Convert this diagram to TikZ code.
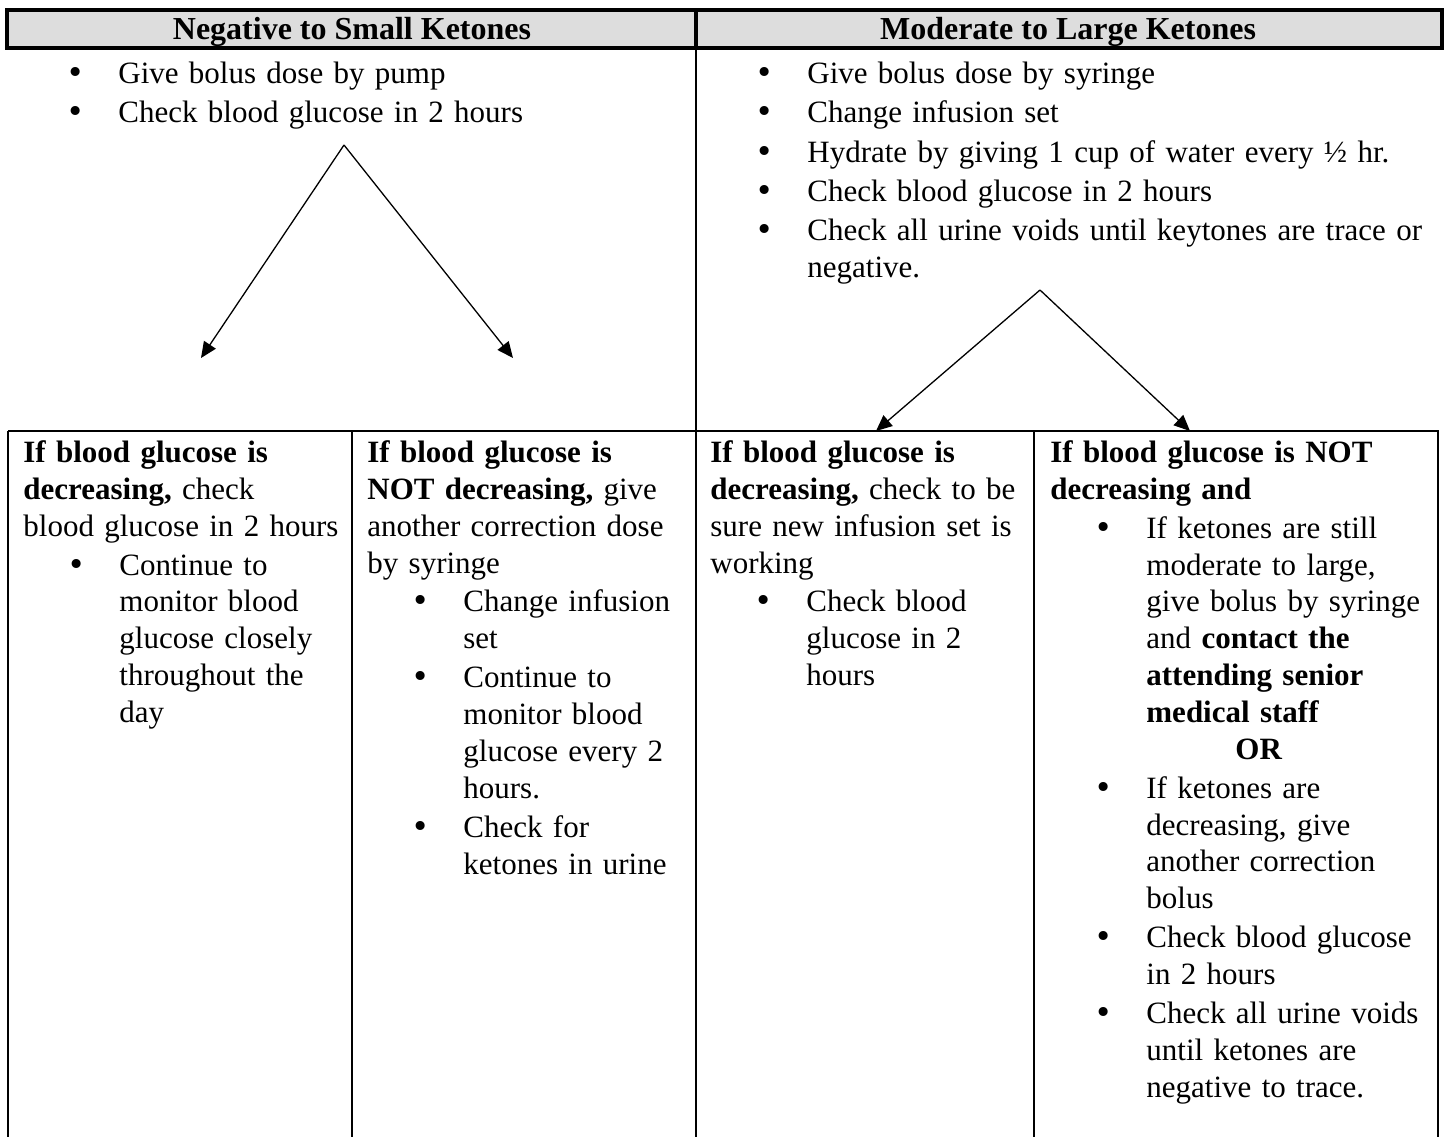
\documentclass[tikz,border=0pt]{standalone}
\usepackage{fontspec}
\setmainfont{Liberation Serif}
\newfontfamily\bulletfont{DejaVu Sans}
\usepackage{tikz}
\usetikzlibrary{arrows.meta}
\definecolor{headgray}{RGB}{221,221,221}
\newcommand\cellfont{\fontsize{15.5pt}{18.4pt}\selectfont}
\newcommand\headfont{\fontsize{16pt}{18.4pt}\selectfont\bfseries}
\newcommand\bigbullet{\makebox[0pt]{\bulletfont\textbullet}}
\newenvironment{blist}{\begin{list}{\bigbullet}{%
  \setlength\leftmargin{48pt}\setlength\labelwidth{0pt}\setlength\labelsep{21.5pt}%
  \setlength\itemindent{0pt}\setlength\itemsep{1.2pt}\setlength\parsep{0pt}%
  \setlength\topsep{1pt}\setlength\partopsep{0pt}}}{\end{list}}

\begin{document}
\begin{tikzpicture}[x=0.5pt,y=-0.5pt,
  every node/.style={inner sep=0pt,font=\cellfont},
  cell/.style={anchor=north west,align=left,text width=#1},
  head/.style={font=\headfont},
  thickline/.style={line width=1.6pt},
  gridline/.style={line width=1.1pt},
  flow/.style={line width=0.65pt,-{Triangle[length=8pt,width=7pt]}}]
\useasboundingbox (0,0) rectangle (1445,1137);

\draw[thickline,fill=headgray] (7,10) rectangle (1442,48);
\draw[thickline] (696,10) -- (696,48);
\node (hneg) at (352,32) [head] {Negative to Small Ketones};
\node (hmod) at (1068,32) [head] {Moderate to Large Ketones};

\draw[gridline] (696,48) -- (696,1137);
\draw[gridline] (8,431) -- (1439,431);
\draw[gridline] (8,431) -- (8,1137);
\draw[gridline] (352,431) -- (352,1137);
\draw[gridline] (1034,431) -- (1034,1137);
\draw[gridline] (1438,431) -- (1438,1137);

\node (tneg) at (22,44.5) [cell=330pt] {\begin{blist}
\item \strut Give bolus dose by pump
\item Check blood glucose in 2 hours
\end{blist}};
\node (tmod) at (711,44.5) [cell=370pt] {\begin{blist}
\item \strut Give bolus dose by syringe
\item Change infusion set
\item Hydrate by giving 1 cup of water every ½ hr.
\item Check blood glucose in 2 hours
\item Check all urine voids until keytones are trace or\newline negative.
\end{blist}};

\node (cdec) at (23,436.5) [cell=165pt] {\strut\textbf{If blood glucose is}\newline
\textbf{decreasing,} check\newline blood glucose in 2 hours
\begin{blist}
\item Continue to\newline monitor blood\newline glucose closely\newline throughout the\newline day
\end{blist}};
\node (cnot) at (367,436.5) [cell=165pt] {\strut\textbf{If blood glucose is}\newline
\textbf{NOT decreasing,} give\newline another correction dose\newline by syringe
\begin{blist}
\item Change infusion\newline set
\item Continue to\newline monitor blood\newline glucose every 2\newline hours.
\item Check for\newline ketones in urine
\end{blist}};
\node (mdec) at (710,436.5) [cell=165pt] {\strut\textbf{If blood glucose is}\newline
\textbf{decreasing,} check to be\newline sure new infusion set is\newline working
\begin{blist}
\item Check blood\newline glucose in 2\newline hours
\end{blist}};
\node (mnot) at (1050,436.5) [cell=195pt] {\strut\textbf{If blood glucose is NOT}\newline
\textbf{decreasing and}
\begin{blist}
\item If ketones are still\newline moderate to large,\newline give bolus by syringe\newline
and \textbf{contact the}\newline \textbf{attending senior}\newline \textbf{medical staff}\newline
\hspace*{44.5pt}\textbf{OR}
\item If ketones are\newline decreasing, give\newline another correction\newline bolus
\item Check blood glucose\newline in 2 hours
\item Check all urine voids\newline until ketones are\newline negative to trace.
\end{blist}};

\coordinate (napex) at (344,145);
\coordinate (ndec) at (201,358);
\coordinate (nnot) at (513,358);
\coordinate (mapex) at (1040,290);
\coordinate (mdecend) at (876,431);
\coordinate (mnotend) at (1190,431);
\draw[flow] (napex) -- (ndec);
\draw[flow] (napex) -- (nnot);
\draw[flow] (mapex) -- (mdecend);
\draw[flow] (mapex) -- (mnotend);
\end{tikzpicture}
\end{document}
